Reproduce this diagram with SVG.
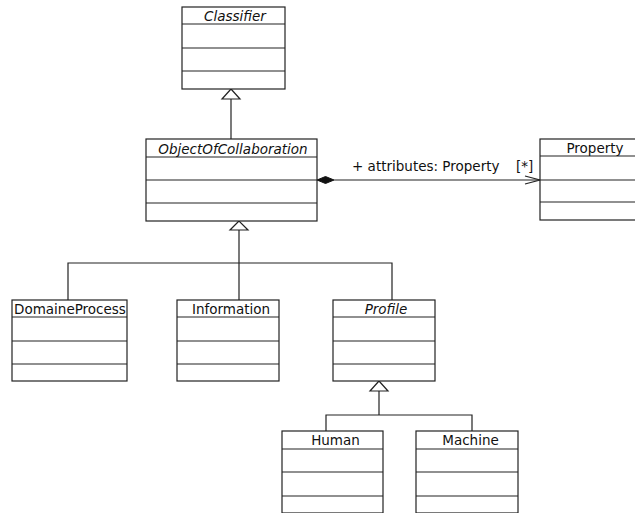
<svg xmlns="http://www.w3.org/2000/svg" width="635" height="513" viewBox="0 0 635 513">
<style>
.box{fill:#fff;stroke:#222;stroke-width:1.2}
.sep{stroke:#222;stroke-width:1.2}
.t{font-family:"DejaVu Sans",sans-serif;font-size:13.5px;fill:#111}
.i{font-style:italic}
.c{fill:none;stroke:#222;stroke-width:1.2}
</style>
<defs>
<clipPath id="clipDP"><rect x="12" y="300" width="115" height="17"/></clipPath>
</defs>
<rect width="635" height="513" fill="#fff"/>
<g id="connectors">
<path class="c" d="M231 99 V139"/>
<polygon points="231,89 222,99 240,99" fill="#fff" stroke="#222" stroke-width="1.2"/>
<path class="c" d="M239 230 V300 M68 300 V263 H392 V300"/>
<polygon points="239,221 230,230 248,230" fill="#fff" stroke="#222" stroke-width="1.2"/>
<path class="c" d="M379 391 V415 M326 431 V415 H472 V431"/>
<polygon points="379,381 370,391 388,391" fill="#fff" stroke="#222" stroke-width="1.2"/>
<path class="c" d="M334 180 H540"/>
<polygon points="317,180 325.5,176.5 334,180 325.5,183.5" fill="#111" stroke="#111"/>
<path class="c" d="M525 176 L540 180 L525 184"/>
<text class="t" x="352" y="171">+ attributes: Property</text>
<text class="t" x="516" y="171">[*]</text>
</g>
<g id="Classifier">
<rect class="box" x="182" y="7" width="103" height="82"/>
<path class="sep" d="M182 24 H285 M182 48 H285 M182 71 H285"/>
<text class="t i" x="235" y="20.5" text-anchor="middle">Classifier</text>
</g>
<g id="ObjectOfCollaboration">
<rect class="box" x="146" y="139" width="171" height="82"/>
<path class="sep" d="M146 157 H317 M146 180 H317 M146 203 H317"/>
<text class="t i" x="233" y="153.5" text-anchor="middle">ObjectOfCollaboration</text>
</g>
<g id="Property">
<rect class="box" x="540" y="139" width="110" height="81"/>
<path class="sep" d="M540 156 H650 M540 180 H650 M540 202 H650"/>
<text class="t" x="595" y="153" text-anchor="middle">Property</text>
</g>
<g id="DomaineProcess">
<rect class="box" x="12" y="300" width="115" height="81"/>
<path class="sep" d="M12 317 H127 M12 341 H127 M12 364 H127"/>
<text class="t" x="14" y="314" clip-path="url(#clipDP)">DomaineProcess</text>
</g>
<g id="Information">
<rect class="box" x="177" y="300" width="102" height="81"/>
<path class="sep" d="M177 317 H279 M177 341 H279 M177 364 H279"/>
<text class="t" x="231" y="314" text-anchor="middle">Information</text>
</g>
<g id="Profile">
<rect class="box" x="333" y="300" width="102" height="81"/>
<path class="sep" d="M333 317 H435 M333 341 H435 M333 364 H435"/>
<text class="t i" x="386" y="314" text-anchor="middle">Profile</text>
</g>
<g id="Human">
<rect class="box" x="282" y="431" width="101" height="82"/>
<path class="sep" d="M282 449 H383 M282 472 H383 M282 496 H383"/>
<text class="t" x="335.5" y="445" text-anchor="middle">Human</text>
</g>
<g id="Machine">
<rect class="box" x="416" y="431" width="102" height="82"/>
<path class="sep" d="M416 449 H518 M416 472 H518 M416 496 H518"/>
<text class="t" x="470.5" y="445" text-anchor="middle">Machine</text>
</g>
</svg>
